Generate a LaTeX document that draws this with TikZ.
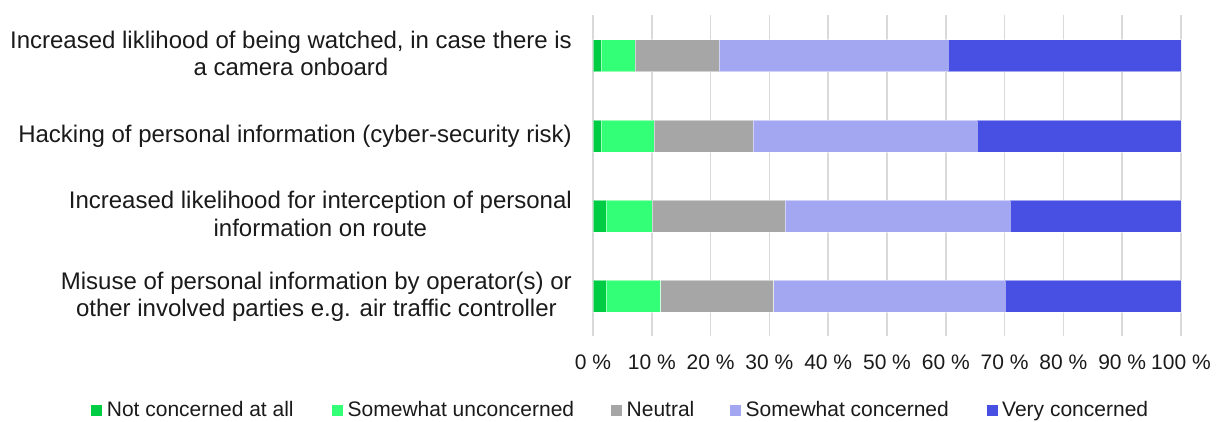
\documentclass[tikz,border=0pt]{standalone}
\usepackage{fontspec}
\setmainfont{Liberation Sans}
\definecolor{cA}{HTML}{00CC44}
\definecolor{cB}{HTML}{33FF77}
\definecolor{cC}{HTML}{A6A6A6}
\definecolor{cD}{HTML}{A3A6F0}
\definecolor{cE}{HTML}{4850E3}
\definecolor{gridc}{HTML}{D9D9D9}
\definecolor{txt}{HTML}{1A1A1A}
\begin{document}
\begin{tikzpicture}[x=1pt,y=-1pt,
  every node/.style={font=\fontsize{21}{25}\selectfont, text=txt, inner sep=0pt},
  catlabel/.style={anchor=base east, font=\fontsize{24}{27}\selectfont},
  catline/.style={anchor=base, font=\fontsize{24}{27}\selectfont},
  ticklabel/.style={anchor=base},
  legtext/.style={anchor=base west},
  legsq/.style={minimum size=11pt, inner sep=0pt},
  seg/.style={draw=white, draw opacity=0.5, line width=0.4pt}]
\useasboundingbox (0,0) rectangle (1217,421);
% grid
\foreach \i in {0,...,10} {
  \draw[gridc, line width=1.5pt] ({593+58.8*\i},15) -- ({593+58.8*\i},336);
}
\node[ticklabel] (t0) at (593,369.5) {0 \%};
\foreach \i in {1,...,10} {
  \node[ticklabel] (t\i) at ({593+58.8*\i},369.5) {\i0 \%};
}
% bars: boundaries in percent
\def\bar#1#2#3#4#5{%
  \fill[cA,seg] ({593+5.88*0},{#1-16}) rectangle ({593+5.88*#2},{#1+16});
  \fill[cB,seg] ({593+5.88*#2},{#1-16}) rectangle ({593+5.88*#3},{#1+16});
  \fill[cC,seg] ({593+5.88*#3},{#1-16}) rectangle ({593+5.88*#4},{#1+16});
  \fill[cD,seg] ({593+5.88*#4},{#1-16}) rectangle ({593+5.88*#5},{#1+16});
  \fill[cE,seg] ({593+5.88*#5},{#1-16}) rectangle ({593+5.88*100},{#1+16});
}
\bar{55.5}{1.36}{7.2}{21.5}{60.4}
\bar{135.7}{1.36}{10.4}{27.2}{65.3}
\bar{216}{2.2}{10.0}{32.6}{70.9}
\bar{296.3}{2.2}{11.5}{30.7}{70.1}
% category labels
\node[catlabel] (c1) at (572,48) {Increased liklihood of being watched, in case there is};
\node[catline] (c1b) at ([yshift=-27pt]c1.base) {a camera onboard};
\node[catlabel] (c2) at (572,142.3) {Hacking of personal information (cyber-security risk)};
\node[catlabel] (c3) at (572,208.7) {Increased likelihood for interception of personal};
\node[catline] (c3b) at ([yshift=-27.3pt]c3.base) {information on route};
\node[catlabel] (c4) at (572,289.3) {Misuse of personal information by operator(s) or};
\node[catline] (c4b) at ([yshift=-27.3pt]c4.base) {other involved parties e.g. air traffic controller};
% legend
\node[legsq, fill=cA] (s1) at (96.7,410.5) {};
\node[legtext] (l1) at (106.7,416.7) {Not concerned at all};
\node[legsq, fill=cB] (s2) at (337.5,410.5) {};
\node[legtext] (l2) at (347.5,416.7) {Somewhat unconcerned};
\node[legsq, fill=cC] (s3) at (616.5,410.5) {};
\node[legtext] (l3) at (626.5,416.7) {Neutral};
\node[legsq, fill=cD] (s4) at (735.5,410.5) {};
\node[legtext] (l4) at (745.5,416.7) {Somewhat concerned};
\node[legsq, fill=cE] (s5) at (992,410.5) {};
\node[legtext] (l5) at (1002,416.7) {Very concerned};
\end{tikzpicture}
\end{document}
